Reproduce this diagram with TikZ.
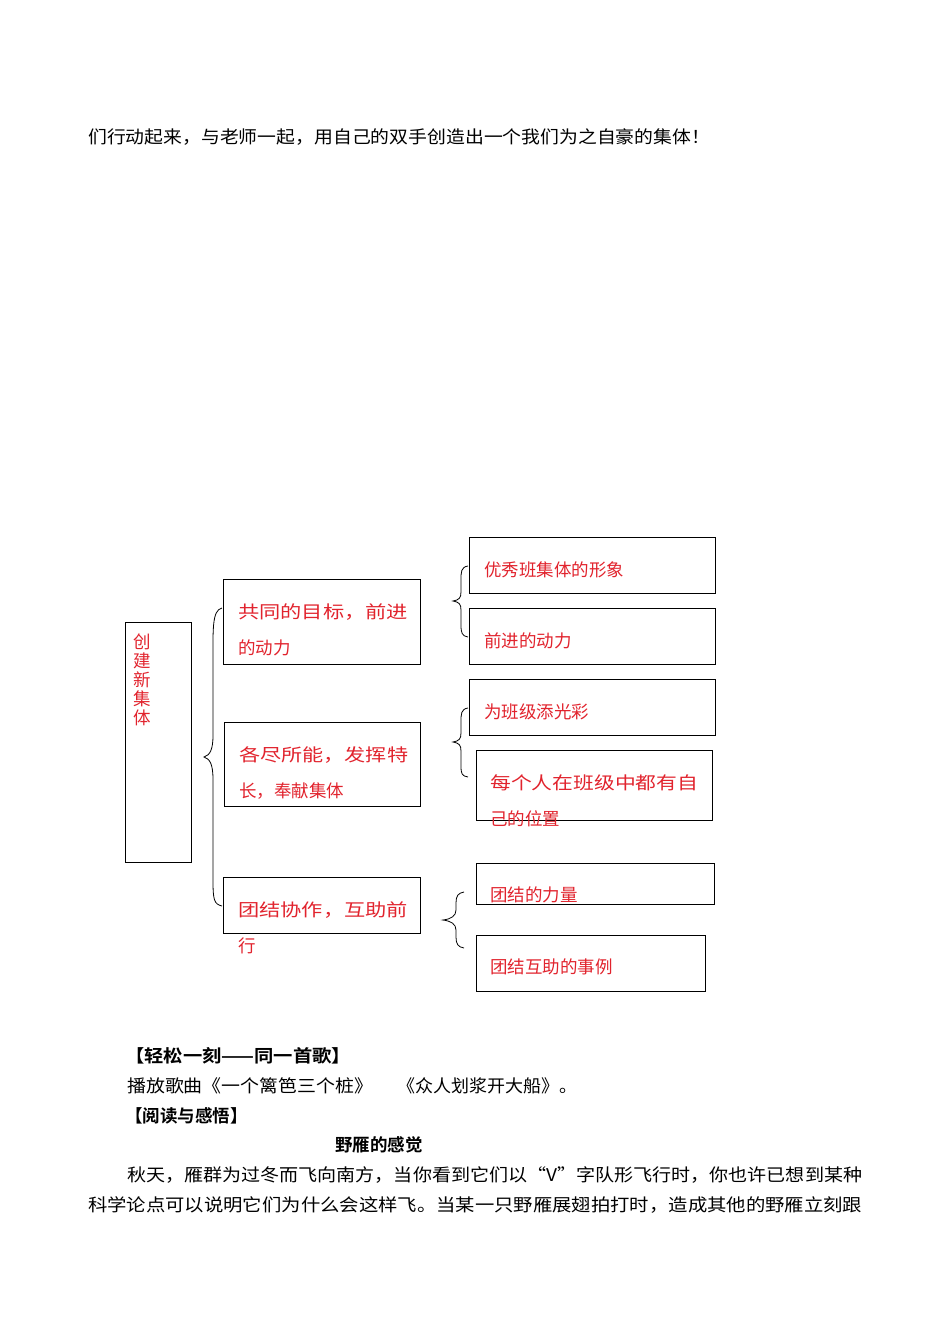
\documentclass[tikz,border=0pt]{standalone}
\usepackage{fontspec}
\usepackage{graphicx}
\newfontfamily\cjk{Noto Sans CJK SC}
\newfontfamily\cjkb{Noto Sans CJK SC Bold}
\definecolor{tred}{RGB}{225,35,45}
\newcommand{\fitw}[2]{\resizebox{#1}{\height}{#2}}
\begin{document}
\begin{tikzpicture}[x=1pt,y=-1pt,
  box/.style={draw,line width=1pt},
  rt/.style={anchor=west,inner sep=0,text=tred,font=\cjk\fontsize{17.5}{17.5}\selectfont},
  bt/.style={anchor=west,inner sep=0,font=\cjk\fontsize{17.5}{17.5}\selectfont},
  br/.style={line width=0.8pt}]
\useasboundingbox (0,0) rectangle (950,1342);
\node[bt] (top) at (88,137) {\fitw{622pt}{们行动起来，与老师一起，用自己的双手创造出一个我们为之自豪的集体！}};
% boxes
\draw[box] (125,622) rectangle (191,862);
\node[rt,anchor=north,align=center,font=\cjk\fontsize{17.5}{19}\selectfont] (c0) at (142,634) {创\\建\\新\\集\\体};
\draw[box] (223,579) rectangle (420,664);
\node[rt] (m1a) at (238,612) {\fitw{170pt}{共同的目标，前进}};
\node[rt] (m1b) at (238,648) {的动力};
\draw[box] (224,722) rectangle (420,806);
\node[rt] (m2a) at (239,755) {\fitw{169pt}{各尽所能，发挥特}};
\node[rt] (m2b) at (239,791) {长，奉献集体};
\draw[box] (223,877) rectangle (420,933);
\node[rt] (m3a) at (238,910) {\fitw{170pt}{团结协作，互助前}};
\node[rt] (m3b) at (238,946) {行};
\draw[box] (469,537) rectangle (715,593);
\node[rt] (r1) at (484,570) {优秀班集体的形象};
\draw[box] (469,608) rectangle (715,664);
\node[rt] (r2) at (484,641) {前进的动力};
\draw[box] (469,679) rectangle (715,735);
\node[rt] (r3) at (484,712) {为班级添光彩};
\draw[box] (476,750) rectangle (712,820);
\node[rt] (r4a) at (490,783) {\fitw{208pt}{每个人在班级中都有自}};
\node[rt] (r4b) at (490,819) {己的位置};
\draw[box] (476,863) rectangle (714,904);
\node[rt] (r5) at (490,895) {团结的力量};
\draw[box] (476,935) rectangle (705,991);
\node[rt] (r6) at (490,967) {团结互助的事例};
% braces
\draw[br] (222,608) .. controls (212,610) and (213,630) .. (213,660) -- (213,735) .. controls (213,750) and (210,755) .. (204,757) .. controls (210,759) and (213,764) .. (213,780) -- (213,880) .. controls (213,900) and (214,904) .. (222,906);
\draw[br] (468,566) .. controls (461,567) and (461,572) .. (461,580) -- (461,592) .. controls (461,598) and (459,600) .. (453,601) .. controls (459,602) and (461,604) .. (461,610) -- (461,625) .. controls (461,633) and (462,636) .. (468,637);
\draw[br] (468,708) .. controls (461,709) and (461,714) .. (461,722) -- (461,733) .. controls (461,739) and (459,741) .. (453,742) .. controls (459,743) and (461,745) .. (461,751) -- (461,766) .. controls (461,774) and (462,776) .. (468,777);
\draw[br] (464,892) .. controls (458,893) and (456,896) .. (456,903) -- (456,910) .. controls (456,916) and (451,919) .. (443,920) .. controls (451,921) and (456,924) .. (456,930) -- (456,937) .. controls (456,944) and (458,947) .. (464,948);
% bottom text
\node[bt,font=\cjkb\fontsize{17.5}{17.5}\selectfont] (h1) at (125,1056) {\fitw{226pt}{【轻松一刻——同一首歌】}};
\node[bt] (s1) at (127,1086) {\fitw{246pt}{播放歌曲《一个篱笆三个桩》}\hspace{24pt}\fitw{180pt}{《众人划浆开大船》。}};
\node[bt,font=\cjkb\fontsize{17.5}{17.5}\selectfont] (h2) at (125,1116) {【阅读与感悟】};
\node[bt,font=\cjkb\fontsize{17.5}{17.5}\selectfont] (h3) at (335,1145) {野雁的感觉};
\node[bt] (p1) at (127,1175) {\fitw{735pt}{秋天，雁群为过冬而飞向南方，当你看到它们以“V”字队形飞行时，你也许已想到某种}};
\node[bt] (p2) at (88,1205) {\fitw{774pt}{科学论点可以说明它们为什么会这样飞。当某一只野雁展翅拍打时，造成其他的野雁立刻跟}};
\end{tikzpicture}
\end{document}
